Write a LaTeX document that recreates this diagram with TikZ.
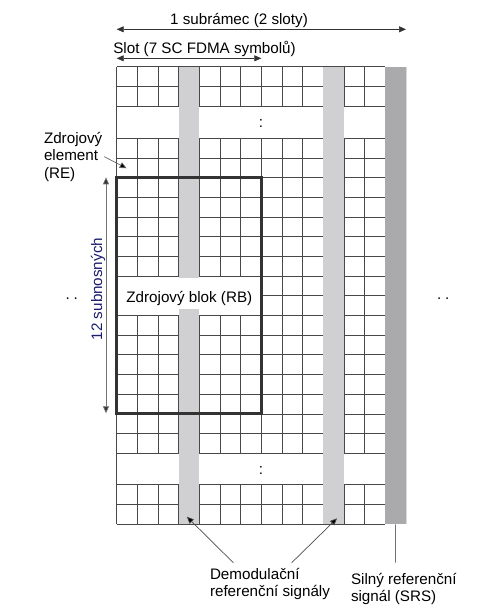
\documentclass[tikz,border=0pt]{standalone}
\usepackage{fontspec}
\setmainfont{Liberation Sans}
\usetikzlibrary{arrows.meta, positioning}

\begin{document}
\begin{tikzpicture}[x = 1pt, y = -1pt,
        every node/.style = {inner sep = 0, outer sep = 0, font = \fontsize{15.2}{17.5}\selectfont},
        gridline/.style = {draw, mygridline, line width = 0.8pt},
        refcol/.style = {rectangle, minimum width = 20.66pt, minimum height = 457.6pt, anchor = north west},
        arrowline/.style = {draw, line width = 0.7pt}]
        \useasboundingbox (0, 0) rectangle (496, 615);
        \definecolor{mygridline}{RGB}{72,72,72}
        \definecolor{mylightgray}{RGB}{208,208,210}
        \definecolor{mydarkgray}{RGB}{170,170,172}
        \definecolor{myrbline}{RGB}{51,51,51}
        \definecolor{mynavy}{RGB}{28,28,110}

        % resource grid: 2 rows, gap, 16 rows, gap, 2 rows
        \foreach \y in {66.7, 86.5, 106.3, 484.3, 504.3, 524.3}
          \path[gridline] (116.7, \y) -- (385.3, \y);
        \foreach \k in {0, ..., 16} {
          \pgfmathsetmacro{\y}{138.3 + \k*19.6875}
          \ifnum\k=8
            \path[gridline] (261.3, \y) -- (385.3, \y);
          \else
            \path[gridline] (116.7, \y) -- (385.3, \y);
          \fi
        }
        \foreach \i in {1, ..., 12} {
          \pgfmathsetmacro{\x}{116.7 + \i*20.66}
          \path[gridline] (\x, 66.7) -- (\x, 106.3) (\x, 484.3) -- (\x, 524.3);
          \ifnum\i<7
            \path[gridline] (\x, 138.3) -- (\x, 276.7) (\x, 315.3) -- (\x, 453.3);
          \else
            \path[gridline] (\x, 138.3) -- (\x, 453.3);
          \fi
        }
        \path[gridline] (116.7, 66.7) -- (116.7, 524.3);

        \node[refcol, fill = mylightgray] at (178.7, 66.7) (dmrs1) {};
        \node[refcol, fill = mylightgray] at (323.3, 66.7) (dmrs2) {};
        \node[refcol, fill = mydarkgray] at (385.3, 66.7) (srs) {};
        \path[draw, mydarkgray!45!white, line width = 1.4pt] ([xshift = 0.7pt] srs.north east) -- ([xshift = 0.7pt] srs.south east);

        \node[fill = white, inner xsep = 2pt, text height = 24.7pt, text depth = 6.3pt, anchor = base] at (189.3, 302.7) (rblabel) {Zdrojový blok (RB)};
        \node[draw = myrbline, line width = 2.6pt, minimum width = 144.6pt, minimum height = 236pt, anchor = north west] at (116.7, 177.3) (rb) {};

        \node at (261, 123) (vdots1) {:};
        \node at (261, 470) (vdots2) {:};
        \node at (71.8, 298.3) (hdots1) {.\hspace{3.8pt}.};
        \node at (443.2, 298.3) (hdots2) {.\hspace{3.8pt}.};

        % frame lengths on top
        \coordinate (sfl) at (116.7, 29.3);
        \coordinate (sfr) at (406, 29.3);
        \path[arrowline, black!80, {Triangle[length = 7pt, width = 6pt]}-{Triangle[length = 7pt, width = 6pt]}] (sfl) -- (sfr);
        \node[anchor = base] at (239, 25) (sflabel) {1 subrámec (2 sloty)};
        \coordinate (sll) at (116.7, 58.3);
        \coordinate (slr) at (261.3, 58.3);
        \path[arrowline, black!80, {Triangle[length = 7pt, width = 6pt]}-{Triangle[length = 7pt, width = 6pt]}] (sll) -- (slr);
        \node[anchor = base west] at (113.3, 53.3) (slotlabel) {Slot (7 SC FDMA symbolů)};

        % left side
        \node[anchor = north west, align = left] at (44, 132) (relabel) {Zdrojový\\element\\(RE)};
        \coordinate (ecell) at (126.7, 168.3);
        \path[arrowline, black!60, -{Triangle[length = 7pt, width = 6pt, fill = black]}] ([xshift = 2pt] relabel.east) -- (ecell);
        \path[arrowline, black!55, {Triangle[length = 7pt, width = 6pt, fill = black!80]}-{Triangle[length = 7pt, width = 6pt, fill = black!80]}] ([xshift = -10.7pt] rb.north west) -- ([xshift = -10.7pt] rb.south west);
        \node[rotate = 90, anchor = base, text = mynavy] at (102, 289) (sublabel) {12 subnosných};

        % reference signals below
        \node[anchor = north west, align = left] at (210, 568) (demod) {Demodulační\\referenční signály};
        \path[arrowline, black!70, -{Triangle[length = 7pt, width = 6pt, fill = black]}] ([xshift = 23.3pt, yshift = 5.3pt] demod.north west) -- ([xshift = -2.2pt, yshift = 7.6pt] dmrs1.south);
        \path[arrowline, black!70, -{Triangle[length = 7pt, width = 6pt, fill = black]}] ([xshift = 81.7pt, yshift = 5.3pt] demod.north west) -- ([xshift = 3.4pt, yshift = 6pt] dmrs2.south);
        \node[anchor = north west, align = left] at (351, 573) (srslabel) {Silný referenční\\signál (SRS)};
        \coordinate (srsend) at (395.6, 562.7);
        \path[arrowline, black!85] (srs.south) -- (srsend);
\end{tikzpicture}
\end{document}
